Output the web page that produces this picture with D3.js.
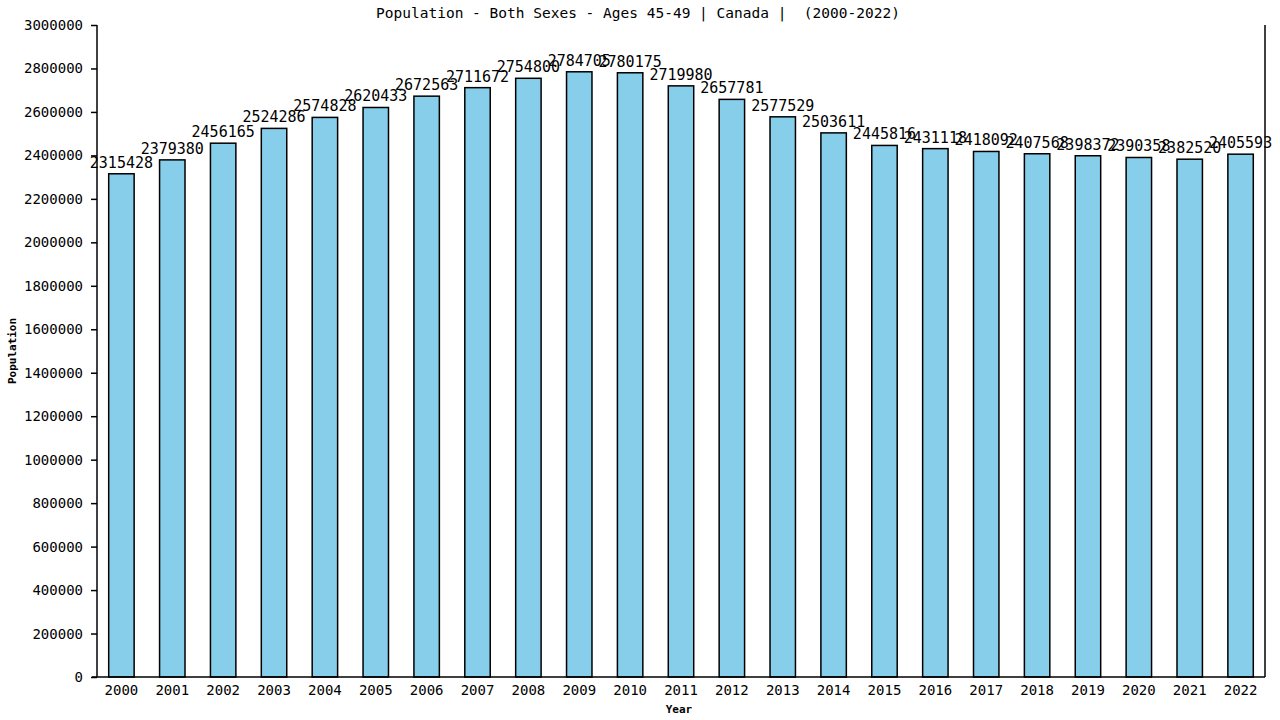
<!DOCTYPE html>
<html>
<head>
<meta charset="utf-8">
<script src="https://cdn.jsdelivr.net/npm/d3@7"></script>
<style>
  body { margin: 0; background: #fff; }
  text { font-family: "DejaVu Sans Mono", monospace; white-space: pre; }
</style>
</head>
<body>
<script>
// data
var years = ["2000", "2001", "2002", "2003", "2004", "2005", "2006", "2007", "2008", "2009", "2010", "2011",
             "2012", "2013", "2014", "2015", "2016", "2017", "2018", "2019", "2020", "2021", "2022"];
var population = [2315428, 2379380, 2456165, 2524286, 2574828, 2620433, 2672563, 2711672, 2754800, 2784705, 2780175, 2719980,
                  2657781, 2577529, 2503611, 2445816, 2431118, 2418092, 2407568, 2398372, 2390358, 2382520, 2405593];
var yTicks = [0, 200000, 400000, 600000, 800000, 1000000, 1200000, 1400000, 1600000, 1800000, 2000000,
              2200000, 2400000, 2600000, 2800000, 3000000];
var title = "Population - Both Sexes - Ages 45-49 | Canada |  (2000-2022)";

var width = 1280, height = 720;
var plotLeft = 97, plotRight = 1265, plotTop = 25, plotBottom = 677;

var svg = d3.select("body").append("svg")
    .attr("width", width).attr("height", height);

var x = d3.scaleBand().domain(years).range([plotLeft, plotRight]).paddingInner(0.5).paddingOuter(0.23);
var y = d3.scaleLinear().domain([0, 3000000]).range([plotBottom, plotTop]);

// bars
svg.selectAll("rect.bar")
    .data(years)
    .enter()
    .append("rect")
    .attr("class", "bar")
    .attr("x", function(d) { return x(d); })
    .attr("y", function(d, i) { return y(population[i]); })
    .attr("width", x.bandwidth())
    .attr("height", function(d, i) { return plotBottom - y(population[i]); })
    .attr("fill", "#87ceeb")
    .attr("stroke", "#000")
    .attr("stroke-width", 1.5);

// value labels
svg.selectAll("text.val")
    .data(years)
    .enter()
    .append("text")
    .attr("class", "val")
    .attr("x", function(d) { return x(d) + x.bandwidth() / 2; })
    .attr("y", function(d, i) { return y(population[i]) - 6; })
    .attr("text-anchor", "middle")
    .attr("font-size", 15)
    .text(function(d, i) { return population[i]; });

// y axis
var yAxis = svg.append("g")
    .attr("transform", "translate(" + plotLeft + ",0)")
    .call(d3.axisLeft(y).tickValues(yTicks).tickSize(6).tickPadding(8).tickFormat(d3.format("d")));
yAxis.selectAll("text").attr("font-size", 14).attr("font-family", "DejaVu Sans Mono").attr("fill", "#000");
yAxis.selectAll("line").attr("stroke-width", 1.5);
yAxis.select(".domain").attr("d", "M0," + plotTop + "V" + plotBottom).attr("stroke-width", 1.5);

// x axis
var xAxis = svg.append("g")
    .attr("transform", "translate(0," + plotBottom + ")")
    .call(d3.axisBottom(x).tickSize(0).tickPadding(8));
xAxis.selectAll("text").attr("font-size", 14).attr("font-family", "DejaVu Sans Mono").attr("fill", "#000");
xAxis.select(".domain").attr("d", "M" + (plotLeft - 5) + ",0H" + plotRight).attr("stroke-width", 1.5);

// right border
svg.append("line")
    .attr("x1", plotRight).attr("y1", plotTop).attr("x2", plotRight).attr("y2", plotBottom)
    .attr("stroke", "#000").attr("stroke-width", 1.5);

// title
svg.append("text")
    .attr("x", 638).attr("y", 18)
    .attr("text-anchor", "middle")
    .attr("font-size", 14.5)
    .text(title);

// axis titles
svg.append("text")
    .attr("transform", "translate(16," + ((plotTop + plotBottom) / 2) + ") rotate(-90)")
    .attr("text-anchor", "middle")
    .attr("font-size", 11)
    .attr("font-weight", "bold")
    .text("Population");

svg.append("text")
    .attr("x", 679).attr("y", 713)
    .attr("text-anchor", "middle")
    .attr("font-size", 11)
    .attr("font-weight", "bold")
    .text("Year");
</script>
</body>
</html>
